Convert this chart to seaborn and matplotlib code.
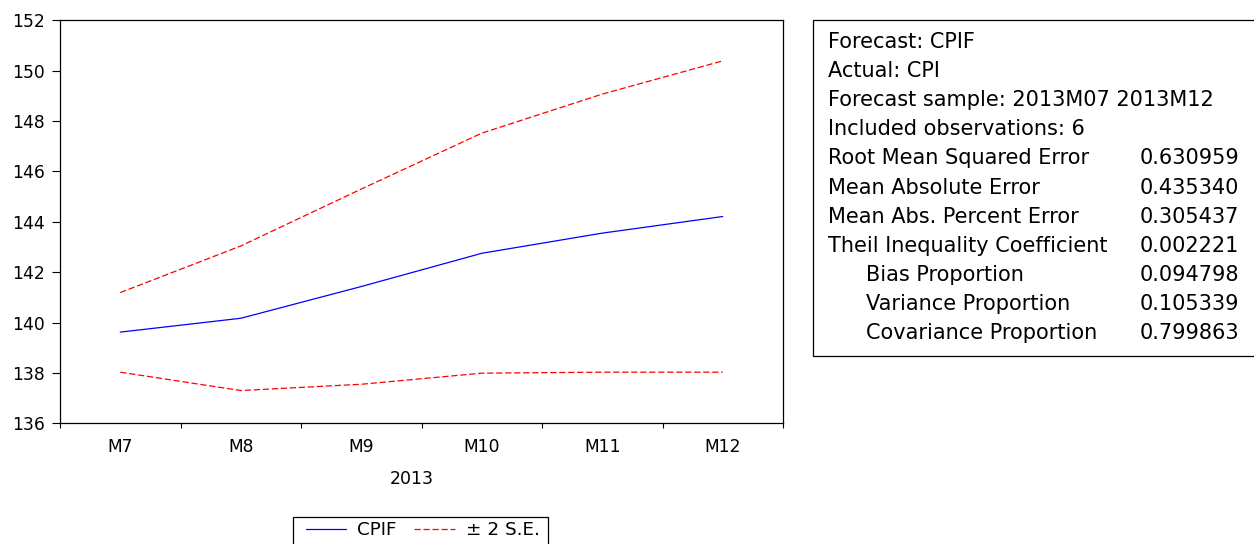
import matplotlib
matplotlib.use("Agg")
import matplotlib.pyplot as plt
from matplotlib.lines import Line2D
from matplotlib.patches import Rectangle
from matplotlib.ticker import FixedLocator, NullFormatter
import matplotlib.transforms as mtransforms
import numpy as np
import pandas as pd
import seaborn as sns

# Forecast period (2013)
months = ["M7", "M8", "M9", "M10", "M11", "M12"]
year_label = "2013"
cpif = [139.62, 140.17, 141.43, 142.75, 143.55, 144.21]
upper_2se = [141.19, 143.04, 145.30, 147.52, 149.07, 150.39]
lower_2se = [138.03, 137.30, 137.55, 137.99, 138.03, 138.03]
y_ticks = [136, 138, 140, 142, 144, 146, 148, 150, 152]

# Forecast evaluation statistics
header_lines = [
    "Forecast: CPIF",
    "Actual: CPI",
    "Forecast sample: 2013M07 2013M12",
    "Included observations: 6",
]
stat_labels = [
    "Root Mean Squared Error",
    "Mean Absolute Error",
    "Mean Abs. Percent Error",
    "Theil Inequality Coefficient",
    "Bias Proportion",
    "Variance Proportion",
    "Covariance Proportion",
]
stat_values = ["0.630959", "0.435340", "0.305437", "0.002221",
               "0.094798", "0.105339", "0.799863"]
stat_indented = [False, False, False, False, True, True, True]

sns.set_theme(style="white")
plt.rcParams["font.family"] = ["DejaVu Sans"]
plt.rcParams["text.color"] = "black"

W, H = 1254, 544
fig = plt.figure(figsize=(W / 100, H / 100), dpi=100)
fig.patch.set_facecolor("white")

# pixel-based placement helper (origin at top-left)
px = mtransforms.Affine2D().scale(1 / W, -1 / H).translate(0, 1) + fig.transFigure

left, right, top, bottom = 60, 783, 20.3, 423.3
ax = fig.add_axes([left / W, 1 - bottom / H, (right - left) / W, (bottom - top) / H])

x = np.arange(len(months))
df = pd.DataFrame({"x": x, "cpif": cpif, "upper": upper_2se, "lower": lower_2se})

dash = (0, (5, 2.2))
sns.lineplot(data=df, x="x", y="cpif", ax=ax, color="#0000ff", lw=0.9)
sns.lineplot(data=df, x="x", y="upper", ax=ax, color="#ff0000", lw=0.9, linestyle=dash)
sns.lineplot(data=df, x="x", y="lower", ax=ax, color="#ff0000", lw=0.9, linestyle=dash)

ax.set_xlim(-0.5, len(months) - 0.5)
ax.set_ylim(y_ticks[0], y_ticks[-1])
ax.set_yticks(y_ticks)
ax.set_xticks(x)
ax.set_xticklabels(months)
ax.xaxis.set_minor_locator(FixedLocator(np.arange(-0.5, len(months), 1.0)))
ax.xaxis.set_minor_formatter(NullFormatter())
ax.tick_params(axis="x", which="major", length=0, pad=10.5, labelsize=12.3, colors="black")
ax.tick_params(axis="x", which="minor", length=3.5, width=0.8, color="black",
               direction="out", bottom=True)
ax.tick_params(axis="y", which="major", length=6, width=0.8, pad=5, labelsize=12.3,
               direction="out", left=True, color="black", labelcolor="black")
ax.set_xlabel("")
ax.set_ylabel("")
for s in ax.spines.values():
    s.set_visible(True)
    s.set_color("black")
    s.set_linewidth(0.9)

fig.text(411.7, 479, year_label, transform=px, ha="center", va="center",
         fontsize=12.5, color="black")

# legend: entries plus a separate frame
handles = [
    Line2D([], [], color="#0000ff", lw=0.9),
    Line2D([], [], color="#ff0000", lw=0.9, linestyle=dash),
]
leg = fig.legend(handles, ["CPIF", "± 2 S.E."], loc="upper left",
                 bbox_to_anchor=(306 / W, 1 - 521 / H), bbox_transform=fig.transFigure,
                 ncol=2, frameon=False, fontsize=13.2, labelcolor="black",
                 handlelength=2.2, handletextpad=0.6, columnspacing=0.95,
                 borderpad=0, borderaxespad=0)
fig.patches.append(Rectangle((293 / W, -0.05), (548 - 293) / W, 1 - 516.7 / H + 0.05,
                             transform=fig.transFigure, fill=False,
                             edgecolor="black", lw=0.9, clip_on=False))

# statistics box
box_left, box_top, box_bottom = 812.7, 20.3, 356
fig.patches.append(Rectangle((box_left / W, 1 - box_bottom / H),
                             (W + 5 - box_left) / W, (box_bottom - box_top) / H,
                             transform=fig.transFigure, fill=False,
                             edgecolor="black", lw=0.9, clip_on=False))
line_y0, line_step = 41.7, 29.16
for i, t in enumerate(header_lines):
    fig.text(827.7, line_y0 + i * line_step, t, transform=px, ha="left",
             va="center", fontsize=15, color="black")
for j, (lab, val, ind) in enumerate(zip(stat_labels, stat_values, stat_indented)):
    yy = line_y0 + (len(header_lines) + j) * line_step
    fig.text(865.7 if ind else 827.7, yy, lab, transform=px, ha="left",
             va="center", fontsize=15, color="black")
    fig.text(1140, yy, val, transform=px, ha="left", va="center",
             fontsize=15, color="black")

fig.savefig("out.png", dpi=100, facecolor="white")
